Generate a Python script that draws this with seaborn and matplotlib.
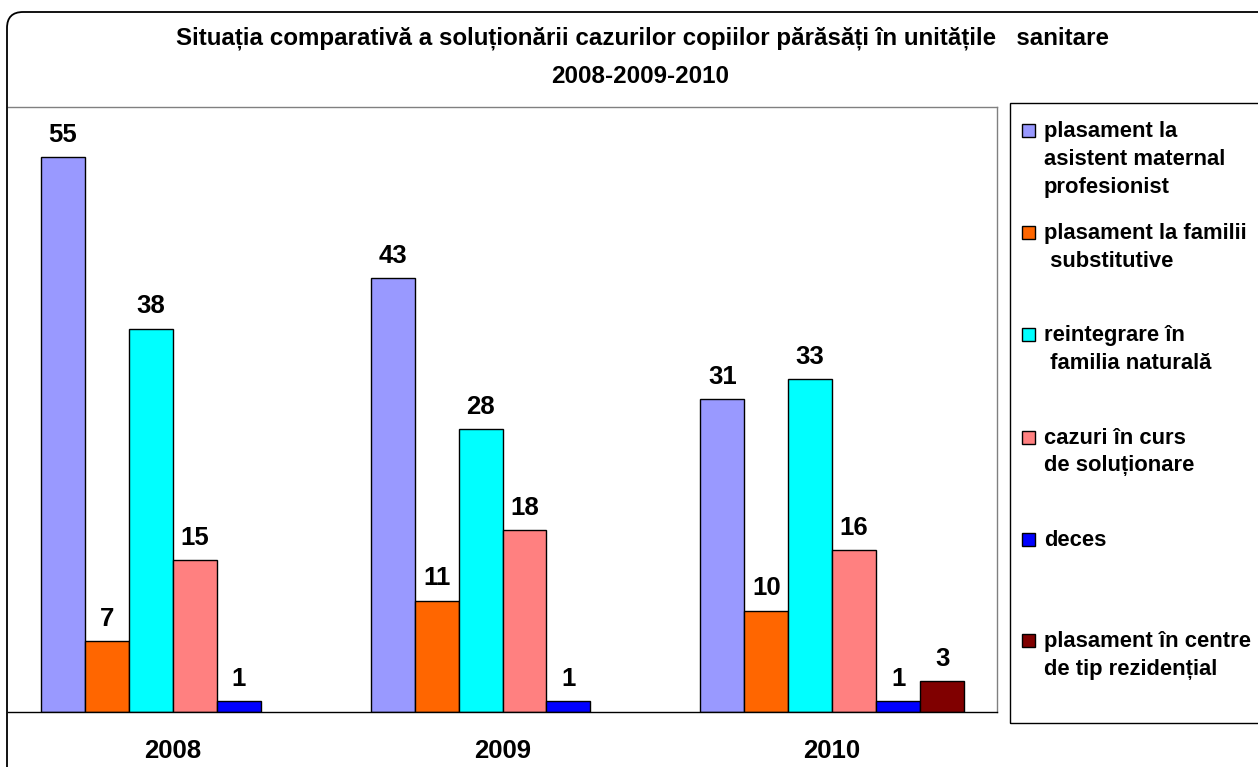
import numpy as np
import pandas as pd
import seaborn as sns
import matplotlib.pyplot as plt
from matplotlib.patches import FancyBboxPatch, Rectangle
from matplotlib.transforms import IdentityTransform

# data
years = ['2008', '2009', '2010']
series = ['plasament la asistent maternal profesionist',
          'plasament la familii substitutive',
          'reintegrare în familia naturală',
          'cazuri în curs de soluționare',
          'deces',
          'plasament în centre de tip rezidențial']
legend_lines = [['plasament la', 'asistent maternal', 'profesionist'],
                ['plasament la familii', ' substitutive'],
                ['reintegrare în', ' familia naturală'],
                ['cazuri în curs', 'de soluționare'],
                ['deces'],
                ['plasament în centre', 'de tip rezidențial']]
asistent = [55, 43, 31]
familii = [7, 11, 10]
reintegrare = [38, 28, 33]
in_curs = [15, 18, 16]
deces = [1, 1, 1]
rezidential = [np.nan, np.nan, 3]
colors = ['#9999FF', '#FF6600', '#00FFFF', '#FF8080', '#0000FF', '#800000']

title1 = 'Situația comparativă a soluționării cazurilor copiilor părăsăți în unitățile   sanitare'
title2 = '2008-2009-2010'

sns.set_style('white')
plt.rcParams['font.family'] = ['Liberation Sans', 'DejaVu Sans']
plt.rcParams['text.color'] = 'black'
plt.rcParams['xtick.color'] = 'black'

rows = []
for name, vals in zip(series, [asistent, familii, reintegrare, in_curs, deces, rezidential]):
    for yr, v in zip(years, vals):
        if not np.isnan(v):
            rows.append({'an': yr, 'categorie': name, 'valoare': v})
df = pd.DataFrame(rows)

W, H = 1258, 767
fig = plt.figure(figsize=(W / 100, H / 100), dpi=100)
ax = fig.add_axes([8 / W, (H - 711.5) / H, (997 - 8) / W, (711.5 - 107) / H])

sns.barplot(data=df, x='an', y='valoare', hue='categorie', hue_order=series,
            order=years, palette=colors, saturation=1, edgecolor='black',
            linewidth=1, width=0.8, dodge=True, legend=False, ax=ax)

for c in ax.containers:
    ax.bar_label(c, fmt='%g', padding=7.5, fontsize=18.5, fontweight='bold', color='black')

ax.set_xlim(-0.5, 2.5)
ax.set_ylim(0, 60)
ax.set_xlabel('')
ax.set_ylabel('')
ax.set_yticks([])
ax.set_xticks([0, 1, 2])
ax.set_xticklabels(years, fontsize=18.5, fontweight='bold')
ax.tick_params(axis='x', which='major', length=0, pad=20, labelcolor='black')
ax.set_xticks([0.5, 1.5, 2.5], minor=True)
ax.tick_params(axis='x', which='minor', length=8, width=1, color='#555555', direction='out')
ax.spines['left'].set_visible(False)
ax.spines['top'].set_color('#808080')
ax.spines['right'].set_color('#808080')
ax.spines['bottom'].set_color('black')
for s in ax.spines.values():
    s.set_linewidth(1)

# outer rounded chart border
fig.patches.append(FancyBboxPatch((7, -20), 1300, H - 12 + 20,
                                  boxstyle='round,pad=0,rounding_size=16',
                                  transform=IdentityTransform(), fill=False,
                                  edgecolor='black', linewidth=1.3, figure=fig))

fig.text(642 / W, 1 - 45 / H, title1, ha='center', va='baseline', fontsize=17.4, fontweight='bold')
fig.text(640 / W, 1 - 83 / H, title2, ha='center', va='baseline', fontsize=17.4, fontweight='bold')

# legend box
fig.patches.append(Rectangle((1010, H - 723), 300, 723 - 103, transform=IdentityTransform(),
                             fill=False, edgecolor='black', linewidth=1, figure=fig))
first_base = [137, 239, 341, 443.5, 545.5, 646.5]
for lines, col, y0 in zip(legend_lines, colors, first_base):
    fig.patches.append(Rectangle((1022, H - y0), 13, 13, transform=IdentityTransform(),
                                 facecolor=col, edgecolor='black', linewidth=1, figure=fig))
    for i, line in enumerate(lines):
        fig.text(1044 / W, 1 - (y0 + i * 28) / H, line, ha='left', va='baseline',
                 fontsize=15.8, fontweight='bold')

fig.savefig('out.png', dpi=100)
